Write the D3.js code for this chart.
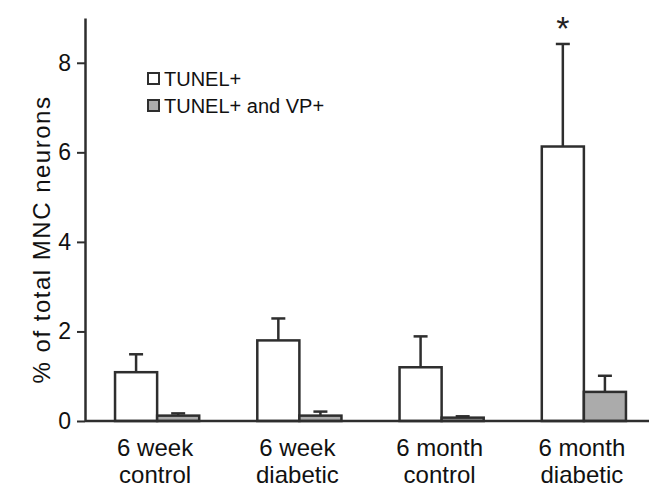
<!DOCTYPE html>
<html>
<head>
<meta charset="utf-8">
<script src="https://cdnjs.cloudflare.com/ajax/libs/d3/7.8.5/d3.min.js"></script>
<style>
  body { margin: 0; background: #fff; }
  svg { display: block; font-family: "Liberation Sans", Arial, sans-serif; }
</style>
</head>
<body>
<svg id="chart"></svg>
<script>
const WIDTH = 649;
const HEIGHT = 491;

// values
const groups = ["6 week control", "6 week diabetic", "6 month control", "6 month diabetic"];
const groupLines = [["6 week", "control"], ["6 week", "diabetic"], ["6 month", "control"], ["6 month", "diabetic"]];
const seriesNames = ["TUNEL+", "TUNEL+ and VP+"];
const tunel = [1.09, 1.8, 1.2, 6.13];
const tunelErr = [0.4, 0.49, 0.69, 2.29];
const tunelVp = [0.12, 0.12, 0.075, 0.65];
const tunelVpErr = [0.05, 0.09, 0.03, 0.36];
const yTicks = [0, 2, 4, 6, 8];
const starGroup = "6 month diabetic";

const INK = "#2e2e2e";
const GREY = "#ababab";

const svg = d3.select("#chart").attr("width", WIDTH).attr("height", HEIGHT);

const y = d3.scaleLinear().domain([0, 9]).range([421, 18]);

const x = d3.scaleBand().domain(groups).range([86, 655]).paddingInner(0).paddingOuter(0);

const xSub = d3.scaleBand().domain([0, 1]).range([0, x.bandwidth()]).paddingInner(0).paddingOuter(0.69);

const data = groups.map((g, i) => ({ g, i, vals: [tunel[i], tunelVp[i]], errs: [tunelErr[i], tunelVpErr[i]] }));
const bars = data.flatMap((d) =>
  d.vals.map((v, s) => ({ g: d.g, s, v, e: d.errs[s] }))
);

// error bars (behind the bars)
const capW = 14;
const eb = svg.append("g").attr("stroke", INK).attr("stroke-width", 2.5);
eb.selectAll("line.stem")
  .data(bars)
  .join("line")
  .attr("class", "stem")
  .attr("x1", (d) => x(d.g) + xSub(d.s) + xSub.bandwidth() / 2)
  .attr("x2", (d) => x(d.g) + xSub(d.s) + xSub.bandwidth() / 2)
  .attr("y1", (d) => y(d.v))
  .attr("y2", (d) => y(d.v + d.e));
eb.selectAll("line.cap")
  .data(bars)
  .join("line")
  .attr("class", "cap")
  .attr("x1", (d) => x(d.g) + xSub(d.s) + xSub.bandwidth() / 2 - capW / 2)
  .attr("x2", (d) => x(d.g) + xSub(d.s) + xSub.bandwidth() / 2 + capW / 2)
  .attr("y1", (d) => y(d.v + d.e))
  .attr("y2", (d) => y(d.v + d.e));

svg.append("g")
  .selectAll("rect")
  .data(bars)
  .join("rect")
  .attr("x", (d) => x(d.g) + xSub(d.s))
  .attr("y", (d) => y(d.v))
  .attr("width", xSub.bandwidth())
  .attr("height", (d) => y(0) - y(d.v))
  .attr("fill", (d) => (d.s === 0 ? "#fff" : GREY))
  .attr("stroke", INK)
  .attr("stroke-width", 2.5);

// x axis line
svg.append("line")
  .attr("x1", 85)
  .attr("x2", WIDTH)
  .attr("y1", y(0))
  .attr("y2", y(0))
  .attr("stroke", INK)
  .attr("stroke-width", 2.5);

// y axis
const yAxis = svg.append("g")
  .attr("transform", "translate(85,0)")
  .call(d3.axisLeft(y).tickValues(yTicks).tickSize(8).tickSizeOuter(0).tickPadding(6));
yAxis.select(".domain").attr("stroke", INK).attr("stroke-width", 2.5);
yAxis.selectAll(".tick line").attr("stroke", INK).attr("stroke-width", 2);
yAxis.selectAll(".tick text").attr("font-size", 23).attr("fill", "#111").attr("font-family", "Liberation Sans, Arial, sans-serif");

svg.append("text")
  .attr("transform", `translate(50,${(y(0) + y(9)) / 2 + 20}) rotate(-90)`)
  .attr("text-anchor", "middle")
  .attr("font-size", 24)
  .attr("letter-spacing", 1.5)
  .attr("fill", "#111")
  .text("% of total MNC neurons");

// category labels
const cl = svg.append("g")
  .selectAll("text")
  .data(data)
  .join("text")
  .attr("x", (d) => x(d.g) + x.bandwidth() / 2 - 2)
  .attr("text-anchor", "middle")
  .attr("font-size", 24)
  .attr("fill", "#111");
cl.selectAll("tspan")
  .data((d) => groupLines[d.i])
  .join("tspan")
  .attr("x", function () { return this.parentNode.getAttribute("x"); })
  .attr("y", (d, k) => 456 + k * 27)
  .text((d) => d);

// significance mark
svg.append("text")
  .attr("x", x(starGroup) + xSub(0) + xSub.bandwidth() / 2)
  .attr("y", 40)
  .attr("text-anchor", "middle")
  .attr("font-size", 34)
  .attr("fill", "#222")
  .text("*");

// legend
const legend = svg.append("g")
  .selectAll("g")
  .data(seriesNames)
  .join("g")
  .attr("transform", (d, i) => `translate(148,${79 + i * 27})`);
legend.append("rect")
  .attr("x", 0)
  .attr("y", -6)
  .attr("width", 11)
  .attr("height", 11)
  .attr("fill", (d, i) => (i === 0 ? "#fff" : GREY))
  .attr("stroke", INK)
  .attr("stroke-width", 2);
legend.append("text")
  .attr("x", 16)
  .attr("y", 7)
  .attr("font-size", 20)
  .attr("fill", "#111")
  .text((d) => d);
</script>
</body>
</html>
